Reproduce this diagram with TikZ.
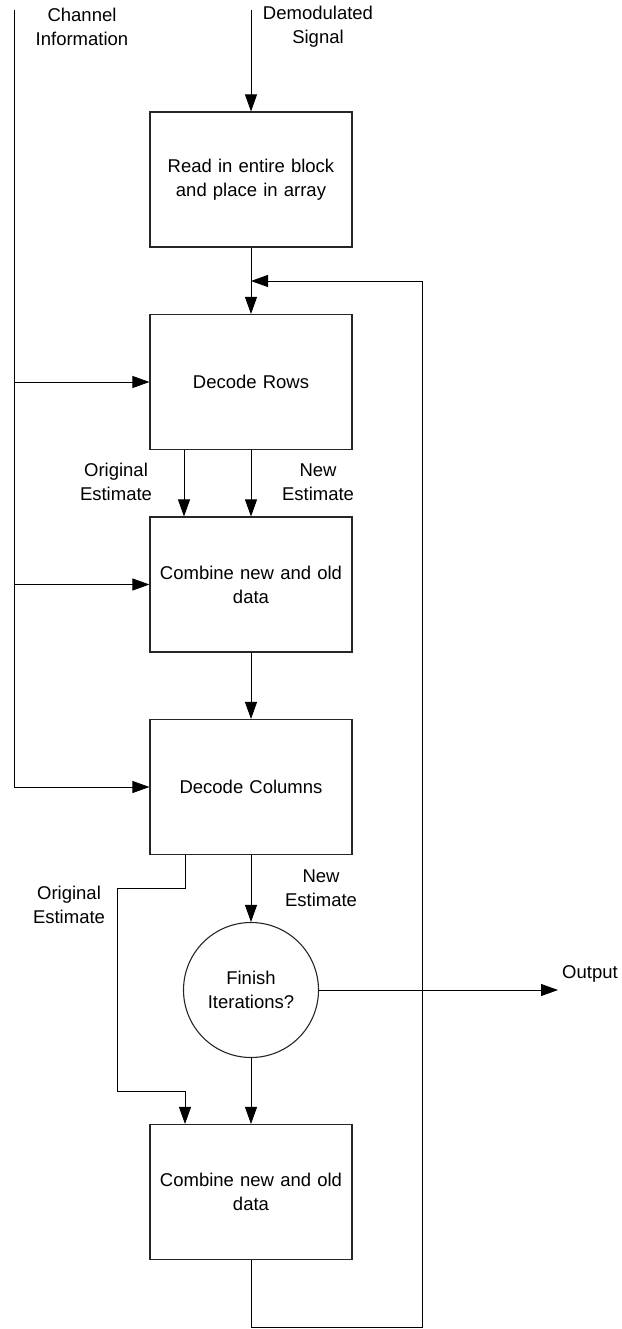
\documentclass[tikz,border=0pt]{standalone}
\usepackage{fontspec}
\setmainfont{Liberation Sans}
\usetikzlibrary{arrows.meta}
\begin{document}
\begin{tikzpicture}[x=1pt,y=-1pt,
  every node/.style={font=\fontsize{18.5}{24}\selectfont, align=center},
  blockbox/.style={draw=black!85, line width=1.1pt, minimum width=202pt, minimum height=135pt, inner sep=0pt, text width=196pt},
  decision/.style={draw=black!85, line width=1.1pt, circle, minimum size=135pt, inner sep=0pt},
  lbl/.style={inner sep=0pt},
  conn/.style={line width=0.9pt},
  arr/.style={conn, -{Triangle[length=17pt,width=12pt]}}]
\useasboundingbox (0,0) rectangle (621,1329);
\node[blockbox] (b1) at (251,179.5) {Read in entire block\\and place in array};
\node[blockbox] (b2) at (251,382) {Decode Rows};
\node[blockbox] (b3) at (251,584.5) {Combine new and old\\data};
\node[blockbox] (b4) at (251,787) {Decode Columns};
\node[decision] (c) at (251,990) {Finish\\Iterations?};
\node[blockbox] (b5) at (251,1192) {Combine new and old\\data};

\node[lbl] (chan) at (82,27) {Channel\\Information};
\node[lbl] (demod) at (318,27) {Demodulated\\Signal};
\node[lbl] (o1) at (116,482) {Original\\Estimate};
\node[lbl] (n1) at (318,482) {New\\Estimate};
\node[lbl] (o2) at (69,905) {Original\\Estimate};
\node[lbl] (n2) at (321,888) {New\\Estimate};
\node[lbl] (outl) at (590,974) {Output};

\coordinate (ctop) at (14,10);
\coordinate (dtop) at (251,10);
\coordinate (fb) at (251,281);
\coordinate (outend) at (558,990);

% channel information bus
\draw[arr] (ctop) |- (b4.west);
\draw[arr] (ctop |- b2.west) -- (b2.west);
\draw[arr] (ctop |- b3.west) -- (b3.west);

\draw[arr] (dtop) -- (b1.north);
\draw[arr] (b1.south) -- (b2.north);
\draw[arr] ([xshift=-67pt]b2.south) -- ([xshift=-67pt]b3.north);
\draw[arr] (b2.south) -- (b3.north);
\draw[arr] (b3.south) -- (b4.north);
\draw[arr] (b4.south) -- (c.north);
\draw[arr] ([xshift=-66pt]b4.south) -- ++(0,33) -| (117,1091) -| ([xshift=-66pt]b5.north);
\draw[arr] (c.south) -- (b5.north);
\draw[arr] (c.east) -- (outend);
\draw[arr] (b5.south) -- (251,1327) -| (422,281) -- (fb);
\end{tikzpicture}
\end{document}
